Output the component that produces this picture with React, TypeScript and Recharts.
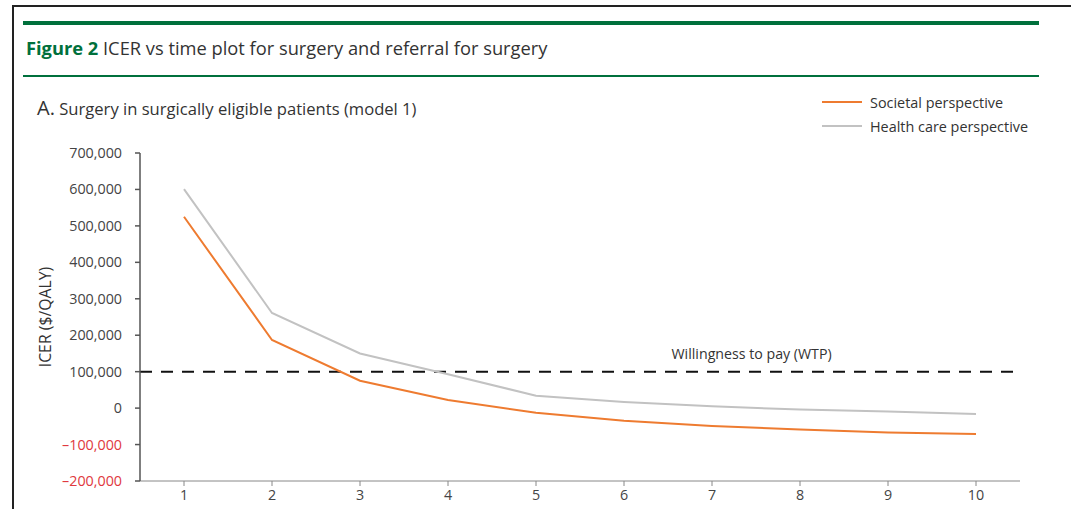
import { LineChart, Line, XAxis, YAxis, ReferenceLine } from "recharts";

const years = [1, 2, 3, 4, 5, 6, 7, 8, 9, 10];
const societal = [525000, 187000, 75000, 22000, -13000, -35000, -49000, -59000, -67000, -71000];
const healthCare = [601000, 261000, 150000, 93000, 34000, 17000, 5000, -4000, -9000, -16000];
const yTicks = [-200000, -100000, 0, 100000, 200000, 300000, 400000, 500000, 600000, 700000];
const wtpThreshold = 100000;

const data = years.map((year, i) => ({
  year,
  societal: societal[i],
  healthCare: healthCare[i],
}));

const FONT = "'Open Sans', 'Noto Sans', sans-serif";
const GREEN = "#00703c";

// Thousands with commas, en dash for negatives
const formatDollars = (v: number) => {
  const s = Math.abs(v).toLocaleString("en-US");
  return v < 0 ? `\u2013${s}` : s;
};

const YTick = (props: any) => {
  const { x, y, payload } = props;
  const v = payload.value as number;
  return (
    <text
      x={x}
      y={y}
      dy={5}
      textAnchor="end"
      fontSize={14.3}
      fontFamily={FONT}
      fill={v < 0 ? "#e0393e" : "#444"}
    >
      {formatDollars(v)}
    </text>
  );
};

const WtpLabel = (props: any) => {
  const { viewBox } = props;
  return (
    <text
      x={viewBox.x + viewBox.width * 0.695}
      y={viewBox.y - 13}
      textAnchor="middle"
      fontSize={14.2}
      fontFamily={FONT}
      fill="#333"
    >
      Willingness to pay (WTP)
    </text>
  );
};

const App = () => {
  return (
    <div
      style={{
        position: "fixed",
        left: 0,
        top: 0,
        width: 1071,
        height: 509,
        background: "#fff",
        overflow: "hidden",
        fontFamily: FONT,
      }}
    >
      {/* page frame */}
      <div style={{ position: "absolute", left: 12, top: 5, right: 0, height: 2, background: "#222" }} />
      <div style={{ position: "absolute", left: 12, top: 5, bottom: 0, width: 2, background: "#222" }} />

      {/* figure header */}
      <div style={{ position: "absolute", left: 23, top: 21, width: 1016, height: 4, background: GREEN }} />
      <div
        style={{
          position: "absolute",
          left: 26,
          top: 35,
          fontSize: 18.3,
          color: "#333",
          whiteSpace: "nowrap",
        }}
      >
        <span style={{ color: GREEN, fontWeight: 700 }}>Figure 2</span> ICER vs time plot for surgery and referral
        for surgery
      </div>
      <div style={{ position: "absolute", left: 23, top: 75, width: 1016, height: 2, background: GREEN }} />

      <div
        style={{
          position: "absolute",
          left: 37,
          top: 94,
          fontSize: 16.6,
          color: "#333",
          whiteSpace: "nowrap",
        }}
      >
        <span style={{ fontSize: 20 }}>A.</span> Surgery in surgically eligible patients (model 1)
      </div>

      {/* legend */}
      <div style={{ position: "absolute", left: 822, top: 91, fontSize: 14.4, color: "#333" }}>
        <div style={{ display: "flex", alignItems: "center", height: 22 }}>
          <div style={{ width: 40, height: 2, background: "#ee7b30", marginRight: 8 }} />
          <span>Societal perspective</span>
        </div>
        <div style={{ display: "flex", alignItems: "center", height: 22, marginTop: 2 }}>
          <div style={{ width: 40, height: 2, background: "#c2c2c2", marginRight: 8 }} />
          <span>Health care perspective</span>
        </div>
      </div>

      <div style={{ position: "absolute", left: 0, top: 0 }}>
        <LineChart
          width={1071}
          height={509}
          data={data}
          margin={{ top: 153, right: 51, bottom: 0, left: 10 }}
        >
          <XAxis
            dataKey="year"
            type="number"
            domain={[0.5, 10.5]}
            ticks={years}
            height={28}
            stroke="#888"
            tickSize={5}
            tickMargin={4}
            tick={{ fontSize: 14.3, fontFamily: FONT, fill: "#444" }}
          />
          <YAxis
            type="number"
            domain={[-200000, 700000]}
            ticks={yTicks}
            width={130}
            stroke="#555"
            strokeWidth={1.5}
            tickSize={5}
            tickMargin={13}
            tick={<YTick />}
            interval={0}
            label={{
              value: "ICER ($/QALY)",
              angle: -90,
              position: "insideLeft",
              offset: 35,
              style: { fontSize: 15.8, fontFamily: FONT, fill: "#333", textAnchor: "middle" },
            }}
          />
          <ReferenceLine
            y={wtpThreshold}
            stroke="#111"
            strokeWidth={2}
            strokeDasharray="12 9"
            label={<WtpLabel />}
          />
          <Line
            type="linear"
            dataKey="healthCare"
            stroke="#c2c2c2"
            strokeWidth={2}
            dot={false}
            isAnimationActive={false}
          />
          <Line
            type="linear"
            dataKey="societal"
            stroke="#ee7b30"
            strokeWidth={2}
            dot={false}
            isAnimationActive={false}
          />
        </LineChart>
      </div>
    </div>
  );
};

export default App;
